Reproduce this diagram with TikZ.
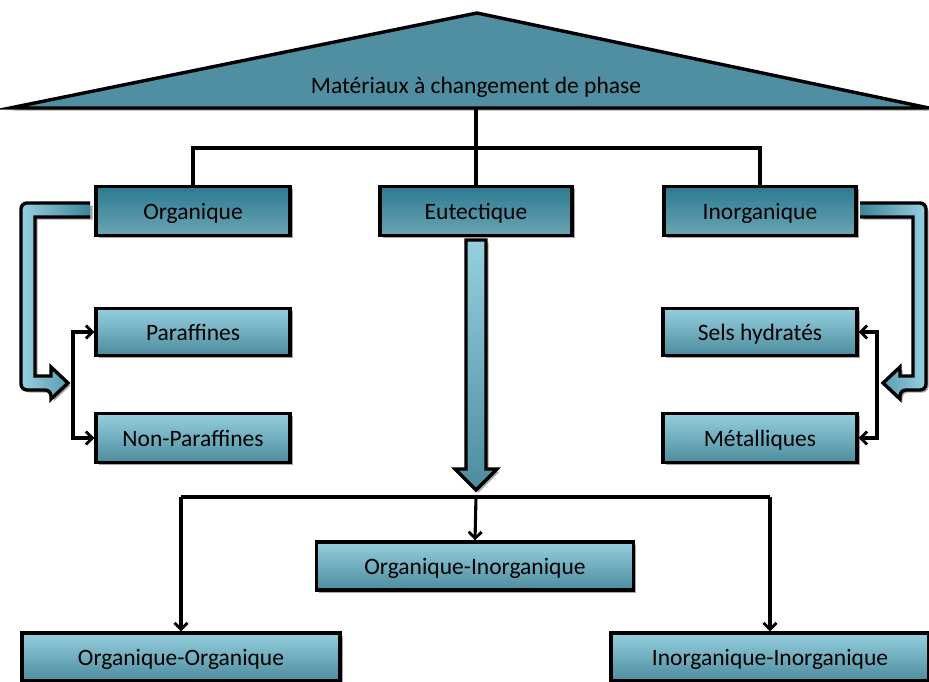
\documentclass[tikz,border=0pt]{standalone}
\usepackage{fontspec}
\setmainfont{Carlito}
\usetikzlibrary{arrows.meta,shadows,calc}
\definecolor{triC}{HTML}{4F8FA1}
\definecolor{darkT}{HTML}{2B7A90}
\definecolor{darkM}{HTML}{2E8199}
\definecolor{darkB}{HTML}{6CA5B4}
\definecolor{lightT}{HTML}{95CFDE}
\definecolor{lightB}{HTML}{4C8C9E}
\definecolor{arrL}{HTML}{96D0E0}
\definecolor{arrD}{HTML}{3F8498}
\begin{document}
\begin{tikzpicture}[x=1pt,y=-1pt,
  shad/.style={drop shadow={shadow xshift=2.5pt,shadow yshift=-2.5pt,opacity=0.35,fill=black}},
  txt/.style={font=\fontsize{23.5}{28}\selectfont, text=black},
  box/.style={draw=black, line width=3.4pt, minimum height=48pt, inner sep=0pt, txt, shad, text height=18pt, text depth=2pt},
  darkbox/.style={box, top color=darkT, middle color=darkM, bottom color=darkB},
  lightbox/.style={box, top color=lightT, bottom color=lightB},
  conn/.style={line width=3.1pt},
  arr/.style={conn, -{Straight Barb[length=6.5pt,width=13pt,line width=2.8pt]}},
  bigarrow/.style={draw=black, line width=3.4pt, line join=miter},
]
\useasboundingbox (0,0) rectangle (929,681);
\fill[white] (0,0) rectangle (929,681);

% roof
\path[bigarrow, fill=triC, shad] (10,108) -- (477,13) -- (929,108) -- cycle;
\node[txt] (top) at (476,87) {Matériaux à changement de phase};
\coordinate (base) at (476,108);

% top boxes
\node[darkbox, minimum width=194pt, minimum height=49pt] (org) at (193,211) {Organique};
\node[darkbox, minimum width=192pt, minimum height=49pt] (eut) at (476,211) {Eutectique};
\node[darkbox, minimum width=192pt, minimum height=49pt] (inorg) at (760,211) {Inorganique};

\coordinate (hl) at (476,148);
\draw[conn] (base) -- (eut.north);
\draw[conn] (org.north) |- (hl) -| (inorg.north);

% sub boxes
\node[lightbox, minimum width=194pt, minimum height=47pt] (par) at (193,332) {Paraffines};
\node[lightbox, minimum width=194pt, minimum height=49pt] (nonpar) at (193,438) {Non-Paraffines};
\node[lightbox, minimum width=194pt, minimum height=47pt] (sels) at (760,332) {Sels hydratés};
\node[lightbox, minimum width=194pt, minimum height=49pt] (met) at (760,438) {Métalliques};

\coordinate (lc) at (73,383);
\coordinate (rc) at (877,383);
\draw[arr] (lc) |- (par.west);
\draw[arr] (lc) |- (nonpar.west);
\draw[arr] (rc) |- (sels.east);
\draw[arr] (rc) |- (met.east);

% left bent arrow
\path[left color=arrL, right color=arrD, shad]
  (90,203) [rounded corners=6pt] -- (21,203) -- (21,390) -- (51,390) [sharp corners]
  -- (51,399) -- (68,383) -- (51,367) -- (51,376) -- (35,376) -- (35,217) -- (90,217) -- cycle;
\draw[bigarrow]
  (90,203) [rounded corners=6pt] -- (21,203) -- (21,390) -- (51,390) [sharp corners]
  -- (51,399) -- (68,383) -- (51,367) -- (51,376) -- (35,376) -- (35,217) -- (90,217);

% right bent arrow
\path[left color=arrD, right color=arrL, shad]
  (860,203) [rounded corners=6pt] -- (926,203) -- (926,390) -- (900,390) [sharp corners]
  -- (900,399) -- (883,383) -- (900,367) -- (900,376) -- (913,376) -- (913,217) -- (860,217) -- cycle;
\draw[bigarrow]
  (860,203) [rounded corners=6pt] -- (926,203) -- (926,390) -- (900,390) [sharp corners]
  -- (900,399) -- (883,383) -- (900,367) -- (900,376) -- (913,376) -- (913,217) -- (860,217);

% central big arrow
\path[bigarrow, top color=arrL, bottom color=lightB, shad]
  (466,240) -- (486,240) -- (486,469) -- (497,469) -- (476,490) -- (455,469) -- (466,469) -- cycle;

% bottom boxes
\node[lightbox, minimum width=317pt, minimum height=48pt] (oi) at (475,566) {Organique-Inorganique};
\node[lightbox, minimum width=318pt, minimum height=48pt] (oo) at (181,657) {Organique-Organique};
\node[lightbox, minimum width=318pt, minimum height=48pt] (ii) at (770,657) {Inorganique-Inorganique};

\coordinate (bh) at (476,497);
\draw[conn] (oo.north |- bh) -- (ii.north |- bh);
\draw[arr] (bh) -- (oi.north);
\draw[arr] (oo.north |- bh) -- (oo.north);
\draw[arr] (ii.north |- bh) -- (ii.north);
\end{tikzpicture}
\end{document}
